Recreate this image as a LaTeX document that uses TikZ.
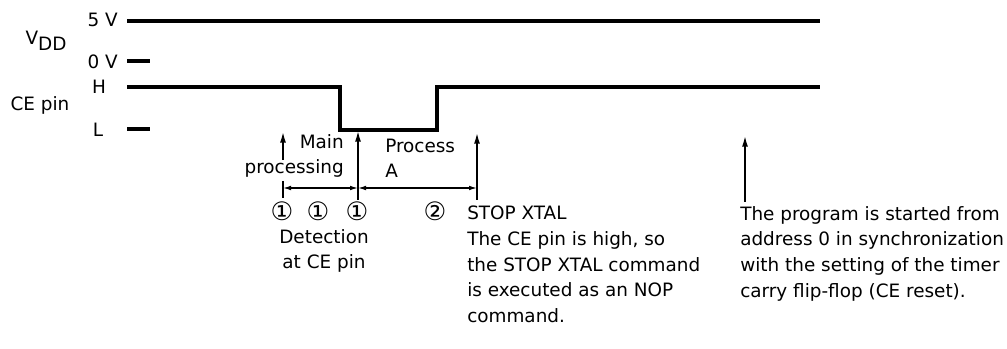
\documentclass[tikz,border=0pt]{standalone}
\usepackage{fontspec}
\setmainfont{DejaVu Sans}
\usetikzlibrary{arrows.meta}
\begin{document}
\begin{tikzpicture}[x=0.75pt,y=-0.75pt,
  sig/.style={line width=2.4pt},
  arr/.style={line width=1.1pt,-{Latex[length=8pt,width=4.5pt]}},
  dimarrow/.style={line width=0.9pt,-{Latex[length=6pt,width=3.5pt]}},
  lbl/.style={font=\fontsize{13.8}{19.2}\selectfont, inner sep=0pt},
  num/.style={font=\fontsize{19}{20}\selectfont, inner sep=0pt},
  ]
\useasboundingbox (0,0) rectangle (1007,349);
% labels on the left
\node[lbl,anchor=east] (l5v) at (118,20) {5 V};
\node[lbl] (lvdd) at (46,41) {V\raisebox{-0.3em}{DD}};
\node[lbl,anchor=east] (l0v) at (118,62) {0 V};
\node[lbl] (lh) at (99,87) {H};
\node[lbl] (lce) at (40,105) {CE pin};
\node[lbl] (ll) at (98,130) {L};
% signal lines
\coordinate (v5a) at (127,21);
\coordinate (v5b) at (820,21);
\coordinate (v0a) at (127,61);
\coordinate (v0b) at (150,61);
\coordinate (ca) at (127,87);
\coordinate (c1) at (340,87);
\coordinate (c2) at (340,130);
\coordinate (c3) at (437,130);
\coordinate (c4) at (437,87);
\coordinate (cb) at (820,87);
\coordinate (lta) at (127,129);
\coordinate (ltb) at (150,129);
\draw[sig] (v5a) -- (v5b);
\draw[sig] (v0a) -- (v0b);
\draw[sig] (lta) -- (ltb);
\draw[sig,line join=miter] (ca) -- (c1) -- (c2) -- (c3) -- (c4) -- (cb);
% vertical arrows
\coordinate (a1s) at (283,160);
\coordinate (a1t) at (283,132);
\coordinate (t1a) at (283,181);
\coordinate (t1b) at (283,198);
\coordinate (a2s) at (358,200);
\coordinate (a2t) at (358,131);
\coordinate (a3s) at (477,200);
\coordinate (a3t) at (477,133);
\coordinate (a4s) at (745,202);
\coordinate (a4t) at (745,136);
\draw[arr] (a1s) -- (a1t);
\draw[line width=1.1pt] (t1a) -- (t1b);
\draw[arr] (a2s) -- (a2t);
\draw[arr] (a3s) -- (a3t);
\draw[arr] (a4s) -- (a4t);
% dimension lines
\coordinate (d0) at (283,188);
\coordinate (dm) at (320,188);
\coordinate (d1) at (358,188);
\coordinate (dm2) at (418,188);
\coordinate (d2) at (477,188);
\draw[dimarrow] (dm) -- (d0);
\draw[dimarrow] (dm) -- (d1);
\draw[dimarrow] (dm2) -- (d1);
\draw[dimarrow] (dm2) -- (d2);
% texts
\node[lbl,anchor=south east,align=right] (mp) at (344,178) {Main\\processing};
\node[lbl,anchor=south west,align=left] (pa) at (385,178) {Process\\A};
\node[num] (n1) at (282,211) {①};
\node[num] (n2) at (318,211) {①};
\node[num] (n3) at (357,211) {①};
\node[num] (n4) at (435,211) {②};
\node[lbl,anchor=north,align=center] (det) at (324,229) {Detection\\at CE pin};
\node[lbl,anchor=north west,align=left] (stop) at (467,206)
  {STOP XTAL\\The CE pin is high, so\\the STOP XTAL command\\is executed as an NOP\\command.};
\node[lbl,anchor=north west,align=left] (prog) at (740,206)
  {The program is started from\\address 0 in synchronization\\with the setting of the timer\\carry flip-flop (CE reset).};
\end{tikzpicture}
\end{document}
